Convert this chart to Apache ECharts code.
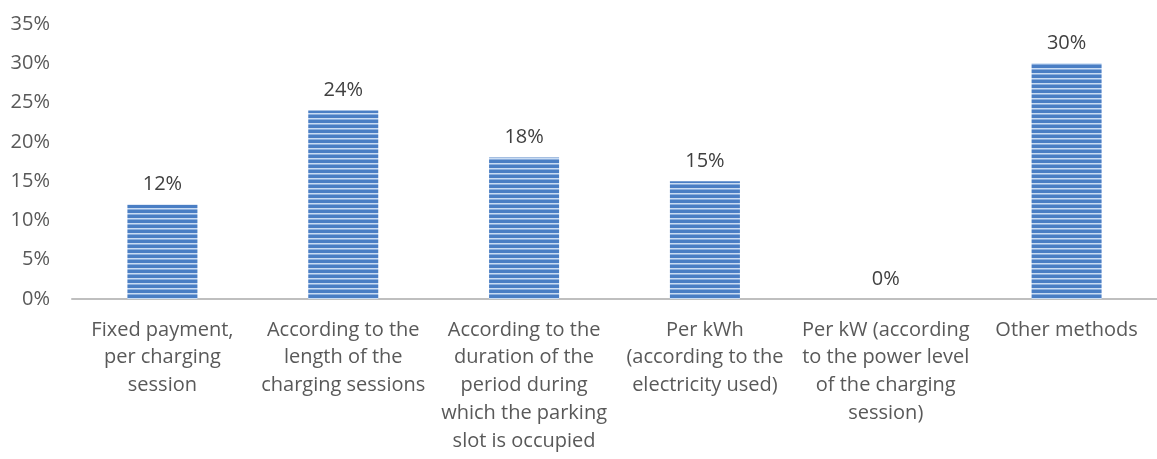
<!DOCTYPE html>
<html>
<head>
<meta charset="utf-8">
<script src="https://cdn.jsdelivr.net/npm/echarts@6/dist/echarts.min.js"></script>
<style>
  html, body { margin: 0; padding: 0; background: #fff; }
  #chart { width: 1157px; height: 459px; }
</style>
</head>
<body>
<div id="chart"></div>
<script>
const categories = [
  'Fixed payment,\nper charging\nsession',
  'According to the\nlength of the\ncharging sessions',
  'According to the\nduration of the\nperiod during\nwhich the parking\nslot is occupied',
  'Per kWh\n(according to the\nelectricity used)',
  'Per kW (according\nto the power level\nof the charging\nsession)',
  'Other methods'
]
const shares = [12, 24, 18, 15, 0, 30]
const yTicks = [0, 5, 10, 15, 20, 25, 30, 35]

// striped fill like the original bars
function stripes(){
  const c = document.createElement('canvas')
  c.width = 8
  c.height = 5
  const ctx = c.getContext('2d')
  ctx.fillStyle = '#4a7ec4'
  ctx.fillRect(0, 0, 8, 5)
  ctx.fillStyle = '#c9dcf3'
  ctx.fillRect(0, 3, 8, 1.5)
  return c
}

const font = 'Open Sans'
const chart = echarts.init(document.getElementById('chart'))
chart.setOption({
  animation: false,
  grid: { top: 24, bottom: 160, left: 72, right: -9 },
  xAxis: {
    type: 'category',
    data: categories,
    axisLine: { lineStyle: { color: '#bfbfbf', width: 2 } },
    axisTick: { show: false },
    axisLabel: {
      interval: 0,
      color: '#595959',
      fontFamily: font,
      fontSize: 20,
      lineHeight: 27.8,
      margin: 17
    }
  },
  yAxis: {
    type: 'value',
    min: yTicks[0],
    max: yTicks[yTicks.length - 1],
    interval: 5,
    splitLine: { show: false },
    axisLine: { show: false },
    axisTick: { show: false },
    axisLabel: {
      formatter: '{value}%',
      color: '#595959',
      fontFamily: font,
      fontSize: 20,
      margin: 22
    }
  },
  series: [{
    type: 'bar',
    data: shares,
    barWidth: 70,
    itemStyle: {
      color: { image: stripes(), repeat: 'repeat' }
    },
    label: {
      show: true,
      position: 'top',
      distance: 10,
      formatter: '{c}%',
      color: '#404040',
      fontFamily: font,
      fontSize: 20
    }
  }]
})
</script>
</body>
</html>
